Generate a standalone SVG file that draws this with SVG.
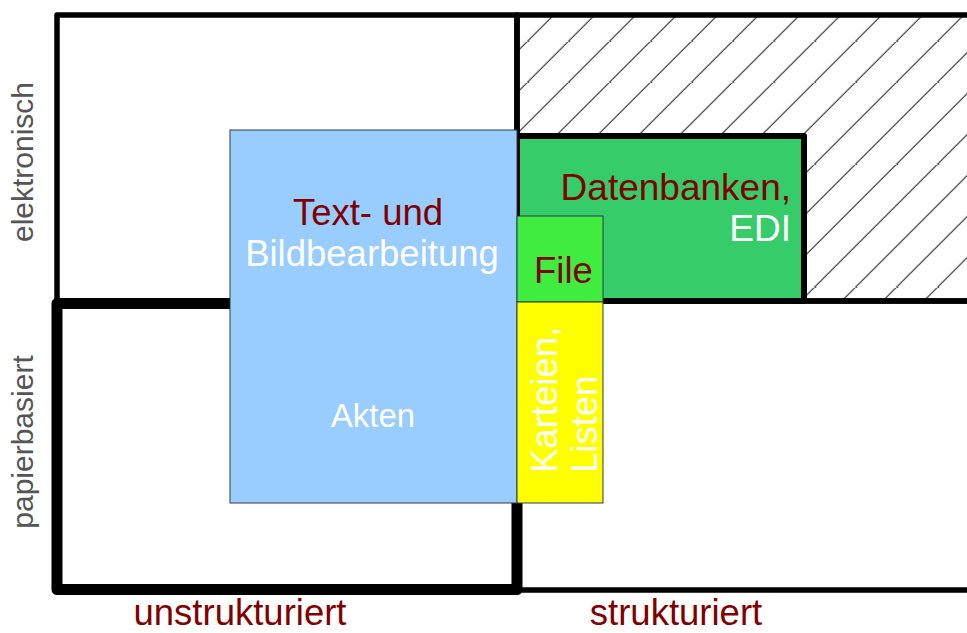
<svg xmlns="http://www.w3.org/2000/svg" width="967" height="633" viewBox="0 0 967 633">
  <defs>
    <pattern id="hatch" patternUnits="userSpaceOnUse" x="-5.3" y="0" width="41" height="41">
      <line x1="-2" y1="43" x2="43" y2="-2" stroke="#222" stroke-width="1.1"/>
      <line x1="-2" y1="2" x2="2" y2="-2" stroke="#222" stroke-width="1.1"/>
      <line x1="39" y1="43" x2="43" y2="39" stroke="#222" stroke-width="1.1"/>
    </pattern>
    <style>
      .frame { fill: none; stroke: #000; stroke-width: 5.5; stroke-linejoin: round; }
      .thick { fill: none; stroke: #000; stroke-width: 11; stroke-linejoin: round; }
      .box { stroke: #2a3a4a; stroke-width: 1; }
      .t { font-family: "Liberation Sans", Arial, sans-serif; font-size: 36.5px; }
      .red { fill: #800000; }
      .white { fill: #ffffff; }
      .axis { font-family: "Liberation Sans", Arial, sans-serif; font-size: 30px; fill: #555555; }
    </style>
  </defs>
  <rect width="967" height="633" fill="#ffffff"/>

  <g id="quadrant-frames">
    <rect x="517" y="15" width="460" height="286" fill="url(#hatch)"/>
    <rect class="frame" x="57" y="15" width="460" height="286"/>
    <rect class="frame" x="517" y="15" width="460" height="286"/>
    <rect class="frame" x="517" y="301" width="460" height="289"/>
    <rect class="thick" x="57" y="303.5" width="460" height="286"/>
  </g>

  <g id="node-datenbanken">
    <rect x="517" y="136" width="287" height="165" fill="#36cc69" stroke="#000" stroke-width="6" stroke-linejoin="round"/>
    <text class="t red" x="791" y="200" text-anchor="end" style="font-size:37px">Datenbanken,</text>
    <text class="t white" x="791" y="241" text-anchor="end" style="font-size:37px">EDI</text>
  </g>

  <g id="node-text-bild">
    <rect class="box" x="230" y="130" width="287" height="373" fill="#99ccff"/>
    <text class="t red" x="368" y="225" text-anchor="middle">Text- und</text>
    <text class="t white" x="372" y="266" text-anchor="middle">Bildbearbeitung</text>
    <text class="t white" x="373" y="427" text-anchor="middle" style="font-size:33px">Akten</text>
  </g>

  <g id="node-file">
    <rect class="box" x="517" y="216" width="86" height="86" fill="#40ec40"/>
    <text class="t red" x="534" y="283">File</text>
  </g>

  <g id="node-karteien">
    <rect class="box" x="517" y="302" width="86" height="201" fill="#ffff00"/>
    <g transform="translate(557,473) rotate(-90)">
      <text class="t white" x="0" y="0">Karteien,</text>
      <text class="t white" x="0" y="40">Listen</text>
    </g>
  </g>

  <g id="axis-labels">
    <text class="axis" transform="translate(33,162) rotate(-90)" text-anchor="middle">elektronisch</text>
    <text class="axis" transform="translate(33,442) rotate(-90)" text-anchor="middle">papierbasiert</text>
    <text class="t red" x="240" y="625" text-anchor="middle">unstrukturiert</text>
    <text class="t red" x="676" y="625" text-anchor="middle">strukturiert</text>
  </g>

  <g id="connectors"/>
</svg>
